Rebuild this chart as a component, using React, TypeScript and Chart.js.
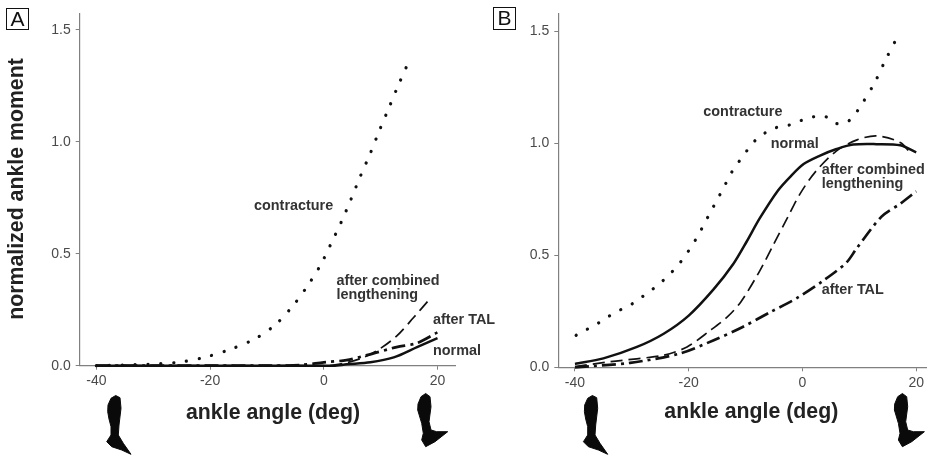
import React, { useEffect, useRef } from "react";
import { Chart, registerables } from "chart.js";

Chart.register(...registerables);

const yTicksStep = 0.5;
const xTicksStep = 20;

// Panel A
const aContractureX = [-40, -35.2, -28.8, -24.7, -20.3, -16.1, -12.1, -8.6, -5.6, -3, -0.65, 1.2, 3.1, 4.75, 6.4, 8.15, 9.7, 11.4, 13, 14.84];
const aContractureY = [0, 0.003, 0.009, 0.018, 0.042, 0.076, 0.12, 0.181, 0.262, 0.351, 0.446, 0.541, 0.643, 0.741, 0.844, 0.946, 1.045, 1.148, 1.246, 1.352];
const aCombinedX = [-40, -10, 0, 1.7, 4, 7, 9.9, 12.8, 15.8, 18.3];
const aCombinedY = [0, 0, 0, 0.003, 0.013, 0.037, 0.076, 0.132, 0.215, 0.288];
const aTalX = [-40, -10, -4.2, 0, 4, 7.6, 12.8, 16.4, 20];
const aTalY = [0, 0, 0.003, 0.015, 0.025, 0.047, 0.083, 0.101, 0.149];
const aNormalX = [-40, 1.7, 4, 8.2, 12.3, 16.4, 20];
const aNormalY = [0, 0, 0.006, 0.015, 0.037, 0.083, 0.123];

// Panel B
const bContractureX = [-39.8, -38, -36.1, -34.1, -32.3, -30.3, -28.5, -26.7, -25.1, -23.5, -22, -20.7, -19.5, -18.3, -17.3, -16.2, -15.2, -14.2, -13.2, -12.2, -10.9, -9.55, -8.2, -6.45, -4.6, -2.35, -0.2, 1.9, 3.9, 5.8, 7.7, 9.2, 10.5, 12.7, 14.6, 16.7];
const bContractureY = [0.143, 0.168, 0.194, 0.227, 0.253, 0.278, 0.309, 0.342, 0.374, 0.412, 0.452, 0.496, 0.54, 0.592, 0.639, 0.692, 0.739, 0.786, 0.835, 0.882, 0.928, 0.975, 1.016, 1.049, 1.071, 1.082, 1.103, 1.119, 1.122, 1.09, 1.093, 1.13, 1.178, 1.272, 1.373, 1.476];
const bNormalX = [-40, -35, -29.1, -24.4, -20, -15.6, -12.2, -9.8, -7.5, -4.3, -2.2, 0.2, 3, 6, 8.9, 13, 17.2, 20];
const bNormalY = [0.015, 0.04, 0.091, 0.15, 0.231, 0.349, 0.46, 0.562, 0.666, 0.79, 0.85, 0.908, 0.945, 0.975, 0.995, 0.997, 0.992, 0.96];
const bCombinedX = [-40, -33.8, -24.4, -20.3, -16.2, -13.3, -10.9, -7.7, -5.1, -2.7, -0.4, 2.2, 6, 9.6, 13.1, 17.2, 19.2];
const bCombinedY = [0.003, 0.025, 0.054, 0.091, 0.165, 0.223, 0.29, 0.422, 0.548, 0.665, 0.776, 0.871, 0.967, 1.016, 1.034, 1.004, 0.95];
const bTalX = [-40, -30.3, -21.5, -15.6, -10.6, -5.7, -1, 3.6, 7.7, 9.5, 13.9, 17.2, 20];
const bTalY = [0, 0.02, 0.062, 0.121, 0.179, 0.246, 0.309, 0.386, 0.467, 0.53, 0.673, 0.731, 0.786];

const zip = (xs: number[], ys: number[]) => xs.map((x, i) => ({ x, y: ys[i] }));

const INK = "#111";
const AXIS = "#808080";
const TEXT = "#333";
const TICK = "#4a4a4a";
const FONT = '"Liberation Sans", Arial, sans-serif';

const styles = {
  contracture: { borderWidth: 3.2, borderDash: [0.1, 12.8], borderCapStyle: "round" },
  normal: { borderWidth: 2.5, borderDash: [] },
  combined: { borderWidth: 1.7, borderDash: [12, 6] },
  tal: { borderWidth: 2.7, borderDash: [14, 5, 3, 5] },
};

function series(label: string, xs: number[], ys: number[], style: any) {
  return {
    label,
    data: zip(xs, ys),
    borderColor: INK,
    pointRadius: 0,
    showLine: true,
    tension: 0.3,
    clip: false,
    ...style,
  };
}

type Note = { t: string; x: number; y: number; size?: number; weight?: string; rot?: number; align?: CanvasTextAlign; color?: string };

const notesPlugin = (notes: Note[], box: number[], letter: string, offsetX: number) => ({
  id: "notes",
  afterDraw(chart: any) {
    const c = chart.ctx;
    c.save();
    c.translate(-offsetX, 0);
    for (const n of notes) {
      c.save();
      c.translate(n.x, n.y);
      if (n.rot) c.rotate(n.rot);
      c.font = `${n.weight ?? "bold"} ${n.size ?? 14.4}px ${FONT}`;
      c.fillStyle = n.color ?? TEXT;
      c.textAlign = n.align ?? "left";
      c.textBaseline = "middle";
      c.fillText(n.t, 0, 0);
      c.restore();
    }
    c.strokeStyle = "#111";
    c.lineWidth = 1;
    c.strokeRect(box[0], box[1], box[2], box[3]);
    c.font = `normal 21px ${FONT}`;
    c.fillStyle = "#111";
    c.textAlign = "center";
    c.textBaseline = "middle";
    c.fillText(letter, box[0] + box[2] / 2, box[1] + box[3] / 2 + 1);
    c.restore();
  },
});

function makeOptions(xMin: number, xMax: number, yMax: number, yWidth: number, xHeight: number, padRight: number, padTop: number) {
  const axisGrid = { drawOnChartArea: false, drawTicks: true, tickLength: 4, color: AXIS, lineWidth: 1 };
  return {
    responsive: false,
    animation: false,
    layout: { padding: { left: 0, right: padRight, top: padTop, bottom: 0 } },
    plugins: { legend: { display: false }, title: { display: false }, tooltip: { enabled: false } },
    scales: {
      x: {
        type: "linear",
        min: xMin,
        max: xMax,
        grid: axisGrid,
        border: { color: AXIS, width: 1.2 },
        afterFit: (s: any) => { s.height = xHeight; },
        ticks: { stepSize: xTicksStep, includeBounds: false, color: TICK, padding: 3, maxRotation: 0, font: { family: FONT, size: 14 } },
      },
      y: {
        type: "linear",
        min: 0,
        max: yMax,
        grid: axisGrid,
        border: { color: AXIS, width: 1.2 },
        afterFit: (s: any) => { s.width = yWidth; },
        ticks: {
          stepSize: yTicksStep,
          includeBounds: false,
          color: TICK,
          padding: 5,
          font: { family: FONT, size: 14 },
          callback: (v: number) => v.toFixed(1),
        },
      },
    },
  };
}

const notesA: Note[] = [
  { t: "normalized ankle moment", x: 17, y: 189, size: 21.3, rot: -Math.PI / 2, align: "center", color: "#222" },
  { t: "ankle angle (deg)", x: 273, y: 413, size: 21.3, align: "center", color: "#222" },
  { t: "contracture", x: 254, y: 206 },
  { t: "after combined", x: 336.5, y: 280.7 },
  { t: "lengthening", x: 336.5, y: 295 },
  { t: "after TAL", x: 433, y: 320 },
  { t: "normal", x: 433, y: 351 },
];
const notesB: Note[] = [
  { t: "ankle angle (deg)", x: 751.3, y: 412, size: 21.3, align: "center", color: "#222" },
  { t: "contracture", x: 703.3, y: 111.7 },
  { t: "normal", x: 770.7, y: 143.7 },
  { t: "after combined", x: 821.7, y: 170.3 },
  { t: "lengthening", x: 821.7, y: 184.3 },
  { t: "after TAL", x: 821.7, y: 290.3 },
];

const FOOT_DOWN =
  "115.7,395.5 111,398.3 108,405 107.7,411.7 109,419 111,426.7 111,435 106.7,441.7 111.7,446.7 121.7,450 131,454.3 123.3,443.3 118.3,435 119,425 121,408.3 120,397.7";
const FOOT_UP =
  "425.7,393.5 421,396.7 418,404 417.7,410 421.7,423.3 423.3,433.3 421.7,440 425.7,446.7 435,441.7 447.7,431.7 436.7,431.7 431,430 429,421.7 431,406.7 430,396.7";

function Foot({ points, dx }: { points: string; dx: number }) {
  return (
    <polygon
      points={points}
      fill="#0a0a0a"
      stroke="#0a0a0a"
      strokeWidth={1}
      strokeLinejoin="round"
      transform={`translate(${dx} 0)`}
    />
  );
}

export default function App() {
  const refA = useRef<HTMLCanvasElement>(null);
  const refB = useRef<HTMLCanvasElement>(null);

  useEffect(() => {
    const a = new Chart(refA.current!, {
      type: "scatter",
      data: {
        datasets: [
          series("contracture", aContractureX, aContractureY, styles.contracture),
          series("after combined lengthening", aCombinedX, aCombinedY, styles.combined),
          series("after TAL", aTalX, aTalY, styles.tal),
          series("normal", aNormalX, aNormalY, styles.normal),
        ],
      } as any,
      options: makeOptions(-42.93, 23.2, 1.573, 79.7, 89.3, 54.3, 7) as any,
      plugins: [notesPlugin(notesA, [6.5, 8.5, 22, 21], "A", 0)],
    });
    const b = new Chart(refB.current!, {
      type: "scatter",
      data: {
        datasets: [
          series("contracture", bContractureX, bContractureY, styles.contracture),
          series("after combined lengthening", bCombinedX, bCombinedY, styles.combined),
          series("after TAL", bTalX, bTalY, styles.tal),
          series("normal", bNormalX, bNormalY, styles.normal),
        ],
      } as any,
      options: makeOptions(-42.93, 21.82, 1.581, 88.3, 87.7, 0, 9.3) as any,
      plugins: [notesPlugin(notesB, [493.5, 7.5, 22, 22], "B", 470)],
    });
    return () => {
      a.destroy();
      b.destroy();
    };
  }, []);

  return (
    <div style={{ position: "fixed", left: 0, top: 0, width: 927, height: 455, overflow: "hidden", background: "#fff", filter: "blur(0.4px)" }}>
      <canvas ref={refA} width={510} height={455} style={{ position: "absolute", left: 0, top: 0 }} />
      <canvas ref={refB} width={457} height={455} style={{ position: "absolute", left: 470, top: 0 }} />
      <svg width={927} height={455} style={{ position: "absolute", left: 0, top: 0 }}>
        <Foot points={FOOT_DOWN} dx={0} />
        <Foot points={FOOT_UP} dx={0} />
        <Foot points={FOOT_DOWN} dx={476.7} />
        <Foot points={FOOT_UP} dx={476.7} />
      </svg>
    </div>
  );
}
